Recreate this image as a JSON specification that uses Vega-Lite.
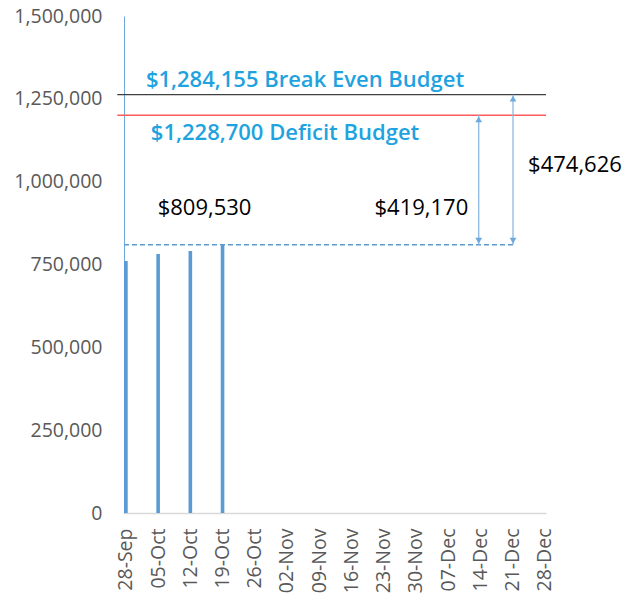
{
  "$schema": "https://vega.github.io/schema/vega-lite/v6.json",
  "autosize": {"type": "none"},
  "padding": {"left": 124, "top": 16, "right": 87, "bottom": 83},
  "width": 422,
  "height": 497,
  "background": "white",
  "config": {"view": {"stroke": null}, "font": "Open Sans"},
  "datasets": {
    "bars": [
      {"week": "2015-09-28T00:00:00Z", "amount": 760500},
      {"week": "2015-10-05T00:00:00Z", "amount": 781700},
      {"week": "2015-10-12T00:00:00Z", "amount": 790700},
      {"week": "2015-10-19T00:00:00Z", "amount": 809530}
    ],
    "hlines": [
      {"line": "breakeven", "start": "2015-09-26T03:00:00Z", "end": "2015-12-28T07:00:00Z", "amount": 1262500},
      {"line": "deficit", "start": "2015-09-26T03:00:00Z", "end": "2015-12-28T07:00:00Z", "amount": 1200300},
      {"line": "current", "start": "2015-09-27T14:00:00Z", "end": "2015-12-21T12:00:00Z", "amount": 809530}
    ],
    "arrows": [
      {"arrow": "deficitgap", "at": "2015-12-13T16:00:00Z", "low": 809530, "high": 1200300},
      {"arrow": "breakevengap", "at": "2015-12-21T03:00:00Z", "low": 809530, "high": 1262500}
    ],
    "notes": [
      {"kind": "budget", "label": "$1,284,155 Break Even Budget", "at": "2015-11-05T22:00:00Z", "amount": 1306800},
      {"kind": "budget", "label": "$1,228,700 Deficit Budget", "at": "2015-11-01T14:00:00Z", "amount": 1146900},
      {"kind": "figure", "label": "$809,530", "at": "2015-10-15T02:00:00Z", "amount": 920500},
      {"kind": "figure", "label": "$419,170", "at": "2015-12-01T05:00:00Z", "amount": 920500},
      {"kind": "figure", "label": "$474,626", "at": "2016-01-03T14:00:00Z", "amount": 1050300}
    ]
  },
  "layer": [
    {
      "data": {"name": "bars"},
      "mark": {"type": "bar", "width": 3.6, "color": "#5B9BD5"},
      "encoding": {
        "x": {
          "field": "week", "type": "temporal",
          "scale": {"type": "utc", "padding": 0, "domain": [1443362400000, 1451286000000]},
          "axis": {
            "title": null,
            "format": "%d-%b",
            "values": [1443398400000, 1444003200000, 1444608000000, 1445212800000, 1445817600000, 1446422400000, 1447027200000, 1447632000000, 1448236800000, 1448841600000, 1449446400000, 1450051200000, 1450656000000, 1451260800000],
            "tickCount": 30,
            "labelAngle": -90,
            "labelAlign": "right",
            "labelBaseline": "middle",
            "labelPadding": 15,
            "labelFontSize": 19.5,
            "labelColor": "#595959",
            "labelOverlap": false,
            "labelFlush": false,
            "labelBound": false,
            "ticks": false,
            "grid": false,
            "domainColor": "#D9D9D9",
            "domainWidth": 1.3
          }
        },
        "y": {
          "field": "amount", "type": "quantitative",
          "scale": {"domain": [0, 1500000], "nice": false, "zero": true},
          "axis": {
            "title": null,
            "values": [0, 250000, 500000, 750000, 1000000, 1250000, 1500000],
            "format": ",d",
            "labelFontSize": 19.5,
            "labelColor": "#595959",
            "labelPadding": 22,
            "ticks": false,
            "grid": false,
            "domainColor": "#6FA8DC",
            "domainWidth": 1
          }
        }
      }
    },
    {
      "data": {"name": "hlines"},
      "transform": [{"filter": "datum.line === 'breakeven'"}],
      "mark": {"type": "rule", "color": "#404040", "strokeWidth": 1.3},
      "encoding": {
        "x": {"field": "start", "type": "temporal"},
        "x2": {"field": "end"},
        "y": {"field": "amount", "type": "quantitative"}
      }
    },
    {
      "data": {"name": "hlines"},
      "transform": [{"filter": "datum.line === 'deficit'"}],
      "mark": {"type": "rule", "color": "#FF5B5B", "strokeWidth": 1.5},
      "encoding": {
        "x": {"field": "start", "type": "temporal"},
        "x2": {"field": "end"},
        "y": {"field": "amount", "type": "quantitative"}
      }
    },
    {
      "data": {"name": "hlines"},
      "transform": [{"filter": "datum.line === 'current'"}],
      "mark": {"type": "rule", "color": "#5B9BD5", "strokeWidth": 1.5, "strokeDash": [5, 3]},
      "encoding": {
        "x": {"field": "start", "type": "temporal"},
        "x2": {"field": "end"},
        "y": {"field": "amount", "type": "quantitative"}
      }
    },
    {
      "data": {"name": "arrows"},
      "mark": {"type": "rule", "color": "#8DB8E2", "strokeWidth": 1.3},
      "encoding": {
        "x": {"field": "at", "type": "temporal"},
        "y": {"field": "low", "type": "quantitative"},
        "y2": {"field": "high"}
      }
    },
    {
      "data": {"name": "arrows"},
      "mark": {"type": "point", "shape": "triangle-up", "filled": true, "color": "#6FA8DC", "size": 45, "yOffset": 4, "opacity": 1},
      "encoding": {
        "x": {"field": "at", "type": "temporal"},
        "y": {"field": "high", "type": "quantitative"}
      }
    },
    {
      "data": {"name": "arrows"},
      "mark": {"type": "point", "shape": "triangle-down", "filled": true, "color": "#6FA8DC", "size": 45, "yOffset": -4, "opacity": 1},
      "encoding": {
        "x": {"field": "at", "type": "temporal"},
        "y": {"field": "low", "type": "quantitative"}
      }
    },
    {
      "data": {"name": "notes"},
      "transform": [{"filter": "datum.kind === 'budget'"}],
      "mark": {"type": "text", "color": "#1FA3DF", "fontSize": 22, "fontWeight": 600, "align": "center", "baseline": "middle"},
      "encoding": {
        "x": {"field": "at", "type": "temporal"},
        "y": {"field": "amount", "type": "quantitative"},
        "text": {"field": "label"}
      }
    },
    {
      "data": {"name": "notes"},
      "transform": [{"filter": "datum.kind === 'figure'"}],
      "mark": {"type": "text", "color": "#000000", "fontSize": 22, "align": "center", "baseline": "middle"},
      "encoding": {
        "x": {"field": "at", "type": "temporal"},
        "y": {"field": "amount", "type": "quantitative"},
        "text": {"field": "label"}
      }
    }
  ]
}
